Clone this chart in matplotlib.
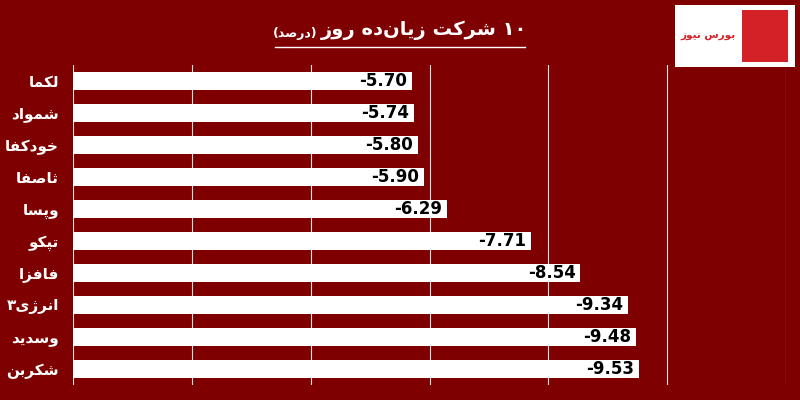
import matplotlib.pyplot as plt
from matplotlib.patches import Rectangle

# --- data ---
tickers = ['لکما', 'شمواد', 'خودکفا', 'ثاصفا', 'وپسا', 'تپکو', 'فافزا', 'انرژی۳', 'وسدید', 'شکربن']
changes = [-5.70, -5.74, -5.80, -5.90, -6.29, -7.71, -8.54, -9.34, -9.48, -9.53]
title = '۱۰ شرکت زیان‌ده روز'
subtitle = 'درصد'

# small arabic shaper (matplotlib does no shaping / bidi)
DUAL = {'ب': 'ﺏﺐﺑﺒ', 'ت': 'ﺕﺖﺗﺘ', 'ث': 'ﺙﺚﺛﺜ', 'خ': 'ﺥﺦﺧﺨ', 'س': 'ﺱﺲﺳﺴ',
        'ش': 'ﺵﺶﺷﺸ', 'ص': 'ﺹﺺﺻﺼ', 'ف': 'ﻑﻒﻓﻔ', 'ل': 'ﻝﻞﻟﻠ', 'م': 'ﻡﻢﻣﻤ',
        'ن': 'ﻥﻦﻧﻨ', 'ه': 'ﻩﻪﻫﻬ', 'پ': 'ﭖﭗﭘﭙ', 'ک': 'ﮎﮏﮐﮑ', 'ی': 'ﯼﯽﯾﯿ'}
RIGHT = {'ا': 'ﺍﺎ', 'د': 'ﺩﺪ', 'ر': 'ﺭﺮ', 'ز': 'ﺯﺰ', 'ژ': 'ﮊﮋ', 'و': 'ﻭﻮ'}


def shape(s):
    out = []
    for i, c in enumerate(s):
        prev = s[i - 1] if i > 0 else ''
        nxt = s[i + 1] if i + 1 < len(s) else ''
        jp = prev in DUAL and (c in DUAL or c in RIGHT)
        jn = c in DUAL and (nxt in DUAL or nxt in RIGHT)
        if c in DUAL:
            f = DUAL[c]
            out.append(f[3] if jp and jn else f[1] if jp else f[2] if jn else f[0])
        elif c in RIGHT:
            out.append(RIGHT[c][1] if jp else RIGHT[c][0])
        elif c != '\u200c':
            out.append(c)
    vis = ''.join(out)[::-1]
    # keep digit runs left-to-right
    res, run = '', ''
    for c in vis:
        if c in '۰۱۲۳۴۵۶۷۸۹':
            run += c
        else:
            res += run[::-1] + c
            run = ''
    return res + run[::-1]


bg = '#7f0000'
plt.rcParams['font.family'] = ['DejaVu Sans']

fig = plt.figure(figsize=(8, 4), dpi=100, facecolor=bg)
ax = fig.add_axes([73 / 800, 15 / 400, 713 / 800, 320 / 400])
ax.set_facecolor(bg)

vals = [abs(v) for v in changes]
y = list(range(len(tickers)))
ax.barh(y, vals, height=0.56, color='white', zorder=2)
ax.set_xlim(0, 12)
ax.set_ylim(len(tickers) - 0.5, -0.5)
ax.set_xticks(range(0, 13, 2))
ax.grid(axis='x', color='#e8e0e0', linewidth=0.8, zorder=1)
ax.tick_params(length=0, labelbottom=False, pad=10)
ax.set_yticks(y)
ax.set_yticklabels([shape(t) for t in tickers], color='white', fontweight='bold', fontsize=11)
for s in ax.spines.values():
    s.set_visible(False)

for yi, v, c in zip(y, vals, changes):
    ax.text(v - 0.08, yi, f'{c:.2f}', ha='right', va='center', fontsize=12,
            fontweight='bold', color='black', zorder=3)

fig.text(527 / 800, 1 - 30 / 400, shape(title), ha='right', va='center',
         color='white', fontsize=14, fontweight='bold')
fig.text(318 / 800, 1 - 33 / 400, '(' + shape(subtitle) + ')', ha='right', va='center',
         color='white', fontsize=9, fontweight='bold')
fig.add_artist(plt.Line2D([275 / 800, 525 / 800], [1 - 47 / 400] * 2,
                          color='white', linewidth=1, transform=fig.transFigure))

# logo box
fig.add_artist(Rectangle((675 / 800, 1 - 67 / 400), 120 / 800, 62 / 400,
                         transform=fig.transFigure, facecolor='white', edgecolor='none'))
fig.add_artist(Rectangle((742 / 800, 1 - 62 / 400), 46 / 800, 52 / 400,
                         transform=fig.transFigure, facecolor='#d42027', edgecolor='none'))
fig.text(708 / 800, 1 - 36 / 400, shape('بورس نیوز'), ha='center', va='center',
         color='#d42027', fontsize=7.5, fontweight='bold')

fig.savefig('out.png', dpi=100, facecolor=bg)
